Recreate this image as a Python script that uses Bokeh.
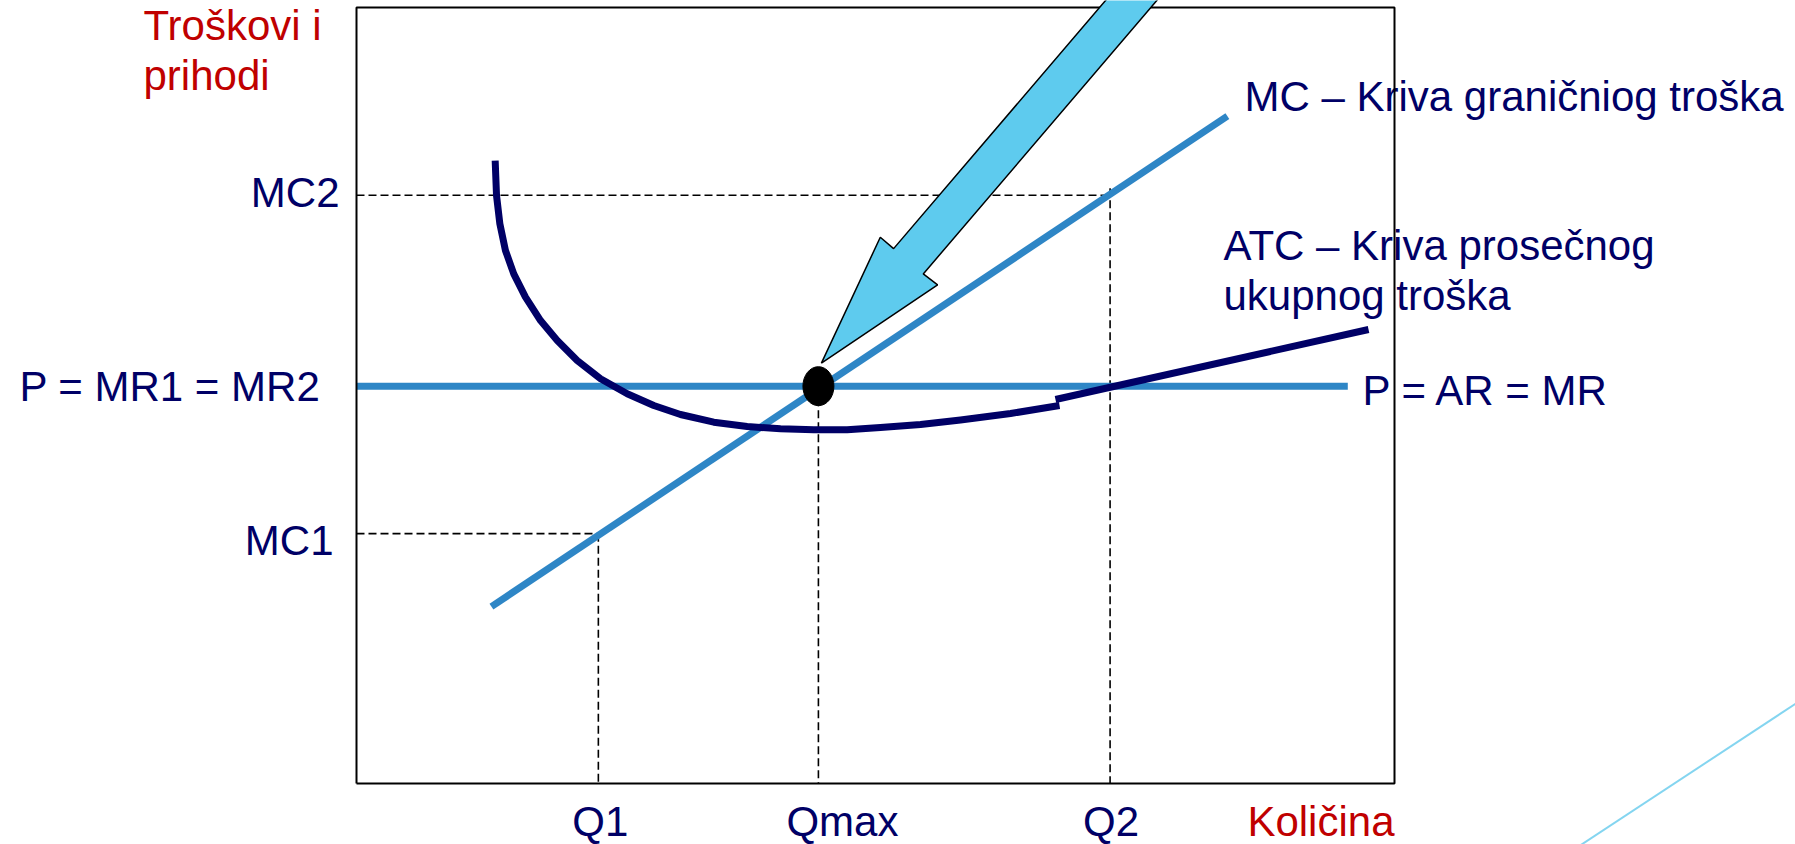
import math
from bokeh.plotting import figure
from bokeh.models import Range1d
from bokeh.core.properties import value
from bokeh.embed import file_html
from bokeh.resources import INLINE

# ---------------- data (chart units: quantity 0..10, costs/revenue 0..10) ----------------
q_labels = ["Q1", "Qmax", "Q2"]
q_values = [2.33, 4.45, 7.26]

c_labels = ["MC1", "P = MR1 = MR2", "MC2"]
c_values = [3.22, 5.12, 7.58]

price_level = 5.12
price_x = [0.0, 9.55]

mc_x = [1.30, 8.39]
mc_y = [2.28, 8.60]

atc_x = [1.336, 1.349, 1.381, 1.435, 1.515, 1.628, 1.773, 1.934, 2.126, 2.351,
         2.608, 2.864, 3.121, 3.442, 3.764, 4.085, 4.406, 4.727, 5.048, 5.434,
         5.819, 6.301, 6.773]
atc_y = [8.028, 7.577, 7.213, 6.869, 6.568, 6.267, 5.966, 5.709, 5.451, 5.215,
         5.022, 4.871, 4.755, 4.656, 4.601, 4.571, 4.558, 4.558, 4.588, 4.626,
         4.684, 4.768, 4.871]
atc_tail_x = [6.734, 9.750]
atc_tail_y = [4.948, 5.851]

curve_labels = ["MC \u2013 Kriva graničniog troška",
                "ATC \u2013 Kriva prosečnog",
                "ukupnog troška",
                "P = AR = MR"]
y_title = ["Troškovi i", "prihodi"]
x_title = "Količina"

# ---------------- layout ----------------
W, H = 1795, 844
PXX, PXY = 103.8, 77.6          # pixels per chart unit
X0, Y0 = 356, 783               # canvas position of chart origin
TEXT_FIX = 15                   # px: raise texts to compensate svg baseline placement


def dx(px):
    return px / PXX


def dy(px):
    return px / PXY


def pos_y(py):                  # canvas pixel row -> chart y
    return (Y0 - py) / PXY


def pos_x(px):
    return (px - X0) / PXX


def ty(py):                     # desired text baseline row -> chart y
    return pos_y(py - TEXT_FIX)


p = figure(width=W, height=H, output_backend="svg", toolbar_location=None,
           x_range=Range1d(-X0 / PXX, (W - X0) / PXX),
           y_range=Range1d(-(H - Y0) / PXY, Y0 / PXY),
           x_axis_location=None, y_axis_location=None, min_border=0)
p.min_border_left = p.min_border_right = p.min_border_top = p.min_border_bottom = 0
p.outline_line_color = None
p.xgrid.visible = False
p.ygrid.visible = False
p.background_fill_color = "white"
p.border_fill_color = "white"

NAVY = "#000066"
RED = "#C00000"
BLUE = "#2E86C6"
FONT = value("Liberation Sans")
FS = value("42px")

# decorative slide line (bottom right)
p.line([pos_x(1800), pos_x(1575)], [pos_y(700), pos_y(848)],
       line_color="#84D5F0", line_width=2)

# dashed guide lines
mc1, pr, mc2 = c_values
q1, qm, q2 = q_values
dash = dict(line_color="black", line_width=1.6, line_dash="8 4")
p.line([0, q2], [mc2, mc2], **dash)
p.line([q2, q2], [mc2 + dy(7), 0], **dash)
p.line([0, q1], [mc1, mc1], **dash)
p.line([q1, q1], [mc1, 0], **dash)
p.line([qm, qm], [pr, 0], **dash)

# price line, MC line
p.line(price_x, [price_level, price_level], line_color=BLUE, line_width=7)
p.line(mc_x, mc_y, line_color=BLUE, line_width=7)

# ATC curve
p.line(atc_x, atc_y, line_color=NAVY, line_width=7, line_join="round")
p.line(atc_tail_x, atc_tail_y, line_color=NAVY, line_width=7)

# equilibrium dot
p.ellipse(x=[qm], y=[pr], width=31, height=39, width_units="screen",
          height_units="screen", fill_color="black", line_color="black")

# tick labels (y side): baseline rows below each level
y_gap = [23, 36, 17]
y_drop = [22, 15, 12]
p.text(x=[-dx(g) for g in y_gap],
       y=[v - dy(d) + dy(TEXT_FIX) for v, d in zip(c_values, y_drop)],
       text=c_labels, text_font=FONT, text_font_size=FS, text_color=NAVY,
       text_align="right", text_baseline="alphabetic")

# tick labels (x side)
x_shift = [2, 24, 1]
base_bottom = ty(836)
p.text(x=[v + dx(s) for v, s in zip(q_values, x_shift)], y=[base_bottom] * 3,
       text=q_labels, text_font=FONT, text_font_size=FS, text_color=NAVY,
       text_align="center", text_baseline="alphabetic")

# axis titles
p.text(x=[10], y=[base_bottom], text=[x_title], text_font=FONT, text_font_size=FS,
       text_color=RED, text_align="right", text_baseline="alphabetic")
p.text(x=[pos_x(143)] * 2, y=[ty(40), ty(90)], text=y_title,
       text_font=FONT, text_font_size=FS, text_color=RED,
       text_align="left", text_baseline="alphabetic")

# curve labels
p.text(x=[pos_x(1244), pos_x(1223), pos_x(1223), pos_x(1362)],
       y=[ty(111), ty(260), ty(310), ty(405)],
       text=curve_labels, text_font=FONT, text_font_size=FS, text_color=NAVY,
       text_align="left", text_baseline="alphabetic")

# frame box
top = 10.0
p.line([0, 10, 10, 0, 0], [0, 0, top, top, 0], line_color="black", line_width=2)

# big arrow pointing at the dot
ang = math.radians(49.5)
ux, uy = math.cos(ang), math.sin(ang)
nx, ny = -uy, ux
tipx, tipy = qm + dx(3), pr + dy(23)
shape = [(0, 0), (135, -37.5), (134, -19.5), (700, -19.5), (700, 19.5), (134, 19.5), (134, 37)]
ax = [tipx + dx(ux * a + nx * b) for a, b in shape]
ay = [tipy + dy(uy * a + ny * b) for a, b in shape]
p.patch(ax, ay, fill_color="#5ECBEE", line_color="black", line_width=1.5)

open("out.html", "w").write(file_html(p, INLINE))
